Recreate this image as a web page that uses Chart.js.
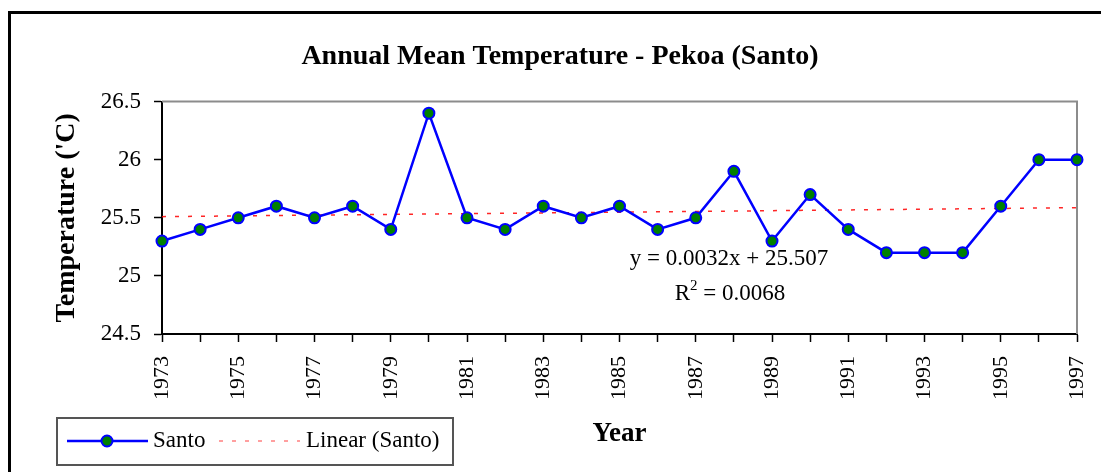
<!DOCTYPE html>
<html lang="en">
<head>
<meta charset="UTF-8">
<title>Annual Mean Temperature - Pekoa (Santo)</title>
<script src="https://cdn.jsdelivr.net/npm/chart.js"></script>
<style>
  html, body { margin: 0; padding: 0; background: #fff; }
  #wrap { width: 1101px; height: 472px; }
</style>
</head>
<body>
<div id="wrap"><canvas id="tempChart" width="1101" height="472"></canvas></div>
<script>
// data
const years = ['1973', '1974', '1975', '1976', '1977', '1978', '1979', '1980', '1981',
               '1982', '1983', '1984', '1985', '1986', '1987', '1988', '1989', '1990',
               '1991', '1992', '1993', '1994', '1995', '1996', '1997'];
const santoTemps = [25.3, 25.4, 25.5, 25.6, 25.5, 25.6, 25.4, 26.4, 25.5,
                    25.4, 25.6, 25.5, 25.6, 25.4, 25.5, 25.9, 25.3, 25.7,
                    25.4, 25.2, 25.2, 25.2, 25.6, 26.0, 26.0];
const trendEnds = [25.51, 25.587];   // linear trend at 1973 and 1997
const equationText = 'y = 0.0032x + 25.507';
const rSquaredText = ' = 0.0068';

const serif = "'Liberation Serif', 'Times New Roman', serif";

// trend line only needs its two ends, the gap is bridged with spanGaps
const trendTemps = years.map((y, i) =>
  i === 0 ? trendEnds[0] : (i === years.length - 1 ? trendEnds[1] : null));

const extras = {
  id: 'extras',
  beforeDatasetsDraw(chart) {
    const { ctx, chartArea: a } = chart;
    ctx.save();
    ctx.strokeStyle = '#8c8c8c';
    ctx.lineWidth = 2;
    ctx.beginPath();
    ctx.moveTo(a.left, a.top);
    ctx.lineTo(a.right, a.top);
    ctx.lineTo(a.right, a.bottom);
    ctx.stroke();
    ctx.restore();
  },
  afterDraw(chart) {
    const { ctx } = chart;
    ctx.save();

    // outer frame (left and top edges only show)
    ctx.strokeStyle = '#000';
    ctx.lineWidth = 3;
    ctx.beginPath();
    ctx.moveTo(9.5, chart.height);
    ctx.lineTo(9.5, 12.5);
    ctx.lineTo(chart.width, 12.5);
    ctx.stroke();

    // trendline equation
    ctx.fillStyle = '#000';
    ctx.textBaseline = 'alphabetic';
    ctx.font = '23px ' + serif;
    ctx.textAlign = 'center';
    ctx.fillText(equationText, 729, 265);
    const restW = ctx.measureText(rSquaredText).width;
    const rW = ctx.measureText('R').width;
    ctx.font = '15px ' + serif;
    const supW = ctx.measureText('2').width;
    let x = 730 - (rW + supW + restW) / 2;
    ctx.textAlign = 'left';
    ctx.font = '23px ' + serif;
    ctx.fillText('R', x, 300);
    ctx.font = '15px ' + serif;
    ctx.fillText('2', x + rW, 290);
    ctx.font = '23px ' + serif;
    ctx.fillText(rSquaredText, x + rW + supW, 300);

    // legend
    ctx.strokeStyle = '#555';
    ctx.lineWidth = 2;
    ctx.strokeRect(57, 418, 396, 47);
    const ly = 441;
    ctx.strokeStyle = '#0000ff';
    ctx.lineWidth = 2.5;
    ctx.beginPath();
    ctx.moveTo(67, ly);
    ctx.lineTo(148, ly);
    ctx.stroke();
    ctx.beginPath();
    ctx.arc(107, ly, 5.5, 0, Math.PI * 2);
    ctx.fillStyle = '#008000';
    ctx.fill();
    ctx.lineWidth = 2;
    ctx.stroke();
    ctx.strokeStyle = 'rgba(255, 0, 0, 0.5)';
    ctx.lineWidth = 1.5;
    ctx.setLineDash([4, 9]);
    ctx.beginPath();
    ctx.moveTo(219, ly);
    ctx.lineTo(300, ly);
    ctx.stroke();
    ctx.setLineDash([]);
    ctx.fillStyle = '#000';
    ctx.font = '23px ' + serif;
    ctx.textBaseline = 'middle';
    ctx.fillText('Santo', 153, ly);
    ctx.fillText('Linear (Santo)', 306, ly);

    ctx.restore();
  }
};

new Chart(document.getElementById('tempChart'), {
  type: 'line',
  data: {
    labels: years,
    datasets: [{
      label: 'Santo',
      data: santoTemps,
      borderColor: '#0000ff',
      borderWidth: 2.5,
      pointBackgroundColor: '#008000',
      pointBorderColor: '#0000ff',
      pointBorderWidth: 2,
      pointRadius: 5.5,
      tension: 0,
      clip: false,
      order: 1
    }, {
      label: 'Linear (Santo)',
      data: trendTemps,
      borderColor: 'rgba(255, 0, 0, 0.85)',
      borderWidth: 1.5,
      borderDash: [4, 9],
      pointRadius: 0,
      spanGaps: true,
      order: 2
    }]
  },
  options: {
    responsive: false,
    animation: false,
    layout: { padding: { left: 26, right: 7, top: 0, bottom: 0 } },
    plugins: {
      legend: { display: false },
      tooltip: { enabled: false },
      title: {
        display: true,
        text: 'Annual Mean Temperature - Pekoa (Santo)',
        color: '#000',
        font: { family: serif, size: 28, weight: 'bold' },
        padding: { top: 40, bottom: 28 }
      }
    },
    scales: {
      x: {
        afterFit: (scale) => {
          scale.height = 138;
          scale.paddingRight = 24;   // keep plot edge where the original has it
        },
        grid: {
          display: true,
          drawOnChartArea: false,
          drawTicks: true,
          tickLength: 8,
          tickColor: '#000',
          tickWidth: 1.5
        },
        border: { color: '#000', width: 2 },
        ticks: {
          autoSkip: false,
          maxRotation: 90,
          minRotation: 90,
          padding: 14,
          color: '#000',
          font: { family: serif, size: 22 },
          callback: (v, i) => (i % 2 === 0 ? years[i] : '')
        },
        title: {
          display: true,
          text: 'Year',
          color: '#000',
          font: { family: serif, size: 27, weight: 'bold' },
          padding: { top: 0, bottom: 22 }
        }
      },
      y: {
        min: 24.5,
        max: 26.5,
        afterFit: (scale) => { scale.width = 136; },
        grid: {
          display: true,
          drawOnChartArea: false,
          drawTicks: true,
          tickLength: 8,
          tickColor: '#000',
          tickWidth: 1.5
        },
        border: { color: '#000', width: 2 },
        ticks: {
          stepSize: 0.5,
          padding: 13,
          color: '#000',
          font: { family: serif, size: 23 },
          callback: (v) => String(v)
        },
        title: {
          display: true,
          text: "Temperature ('C)",
          color: '#000',
          font: { family: serif, size: 28, weight: 'bold' },
          padding: { top: 24, bottom: 0 }
        }
      }
    }
  },
  plugins: [extras]
});
</script>
</body>
</html>
